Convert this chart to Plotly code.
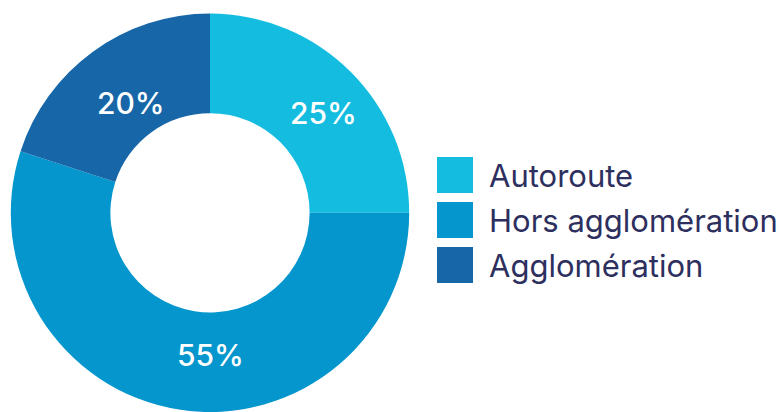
import plotly.graph_objects as go

categories = ["Autoroute", "Hors agglomération", "Agglomération"]
values = [25, 55, 20]
colors = ["#14BDE0", "#0596CD", "#1666A8"]

W, H = 779, 412

fig = go.Figure(go.Pie(
    labels=categories,
    values=values,
    hole=0.5,
    sort=False,
    direction="clockwise",
    rotation=0,
    marker=dict(colors=colors, line=dict(width=0)),
    textinfo="none",
    domain=dict(x=[10.8 / W, 409.2 / W], y=[0, 398.4 / H]),
    showlegend=False,
    hoverinfo="label+percent",
))

# percentage labels (pixel positions of label centres)
label_pos = [(323, 113), (210, 355), (131, 103)]
total = sum(values)
for v, (px, py) in zip(values, label_pos):
    fig.add_annotation(text=f"{round(100 * v / total)}%", xref="paper", yref="paper",
                       x=px / W, y=(H - py) / H, xanchor="center", yanchor="middle",
                       showarrow=False,
                       font=dict(family="Inter", size=30, color="white", weight=500))

# custom legend: large squares + labels
sq = 36
x0 = 437
y_centers = [175, 220, 265]
for cat, col, yc in zip(categories, colors, y_centers):
    fig.add_shape(type="rect", xref="paper", yref="paper",
                  x0=x0 / W, x1=(x0 + sq) / W,
                  y0=(H - yc - sq / 2) / H, y1=(H - yc + sq / 2) / H,
                  fillcolor=col, line=dict(width=0))
    fig.add_annotation(text=cat, xref="paper", yref="paper",
                       x=487 / W, y=(H - yc) / H, xanchor="left", yanchor="middle",
                       showarrow=False,
                       font=dict(family="Inter", size=31, color="#2D2F5E"))

fig.update_layout(
    width=W, height=H,
    margin=dict(l=0, r=0, t=0, b=0),
    paper_bgcolor="white",
    plot_bgcolor="white",
)

fig.write_html("out.html")
